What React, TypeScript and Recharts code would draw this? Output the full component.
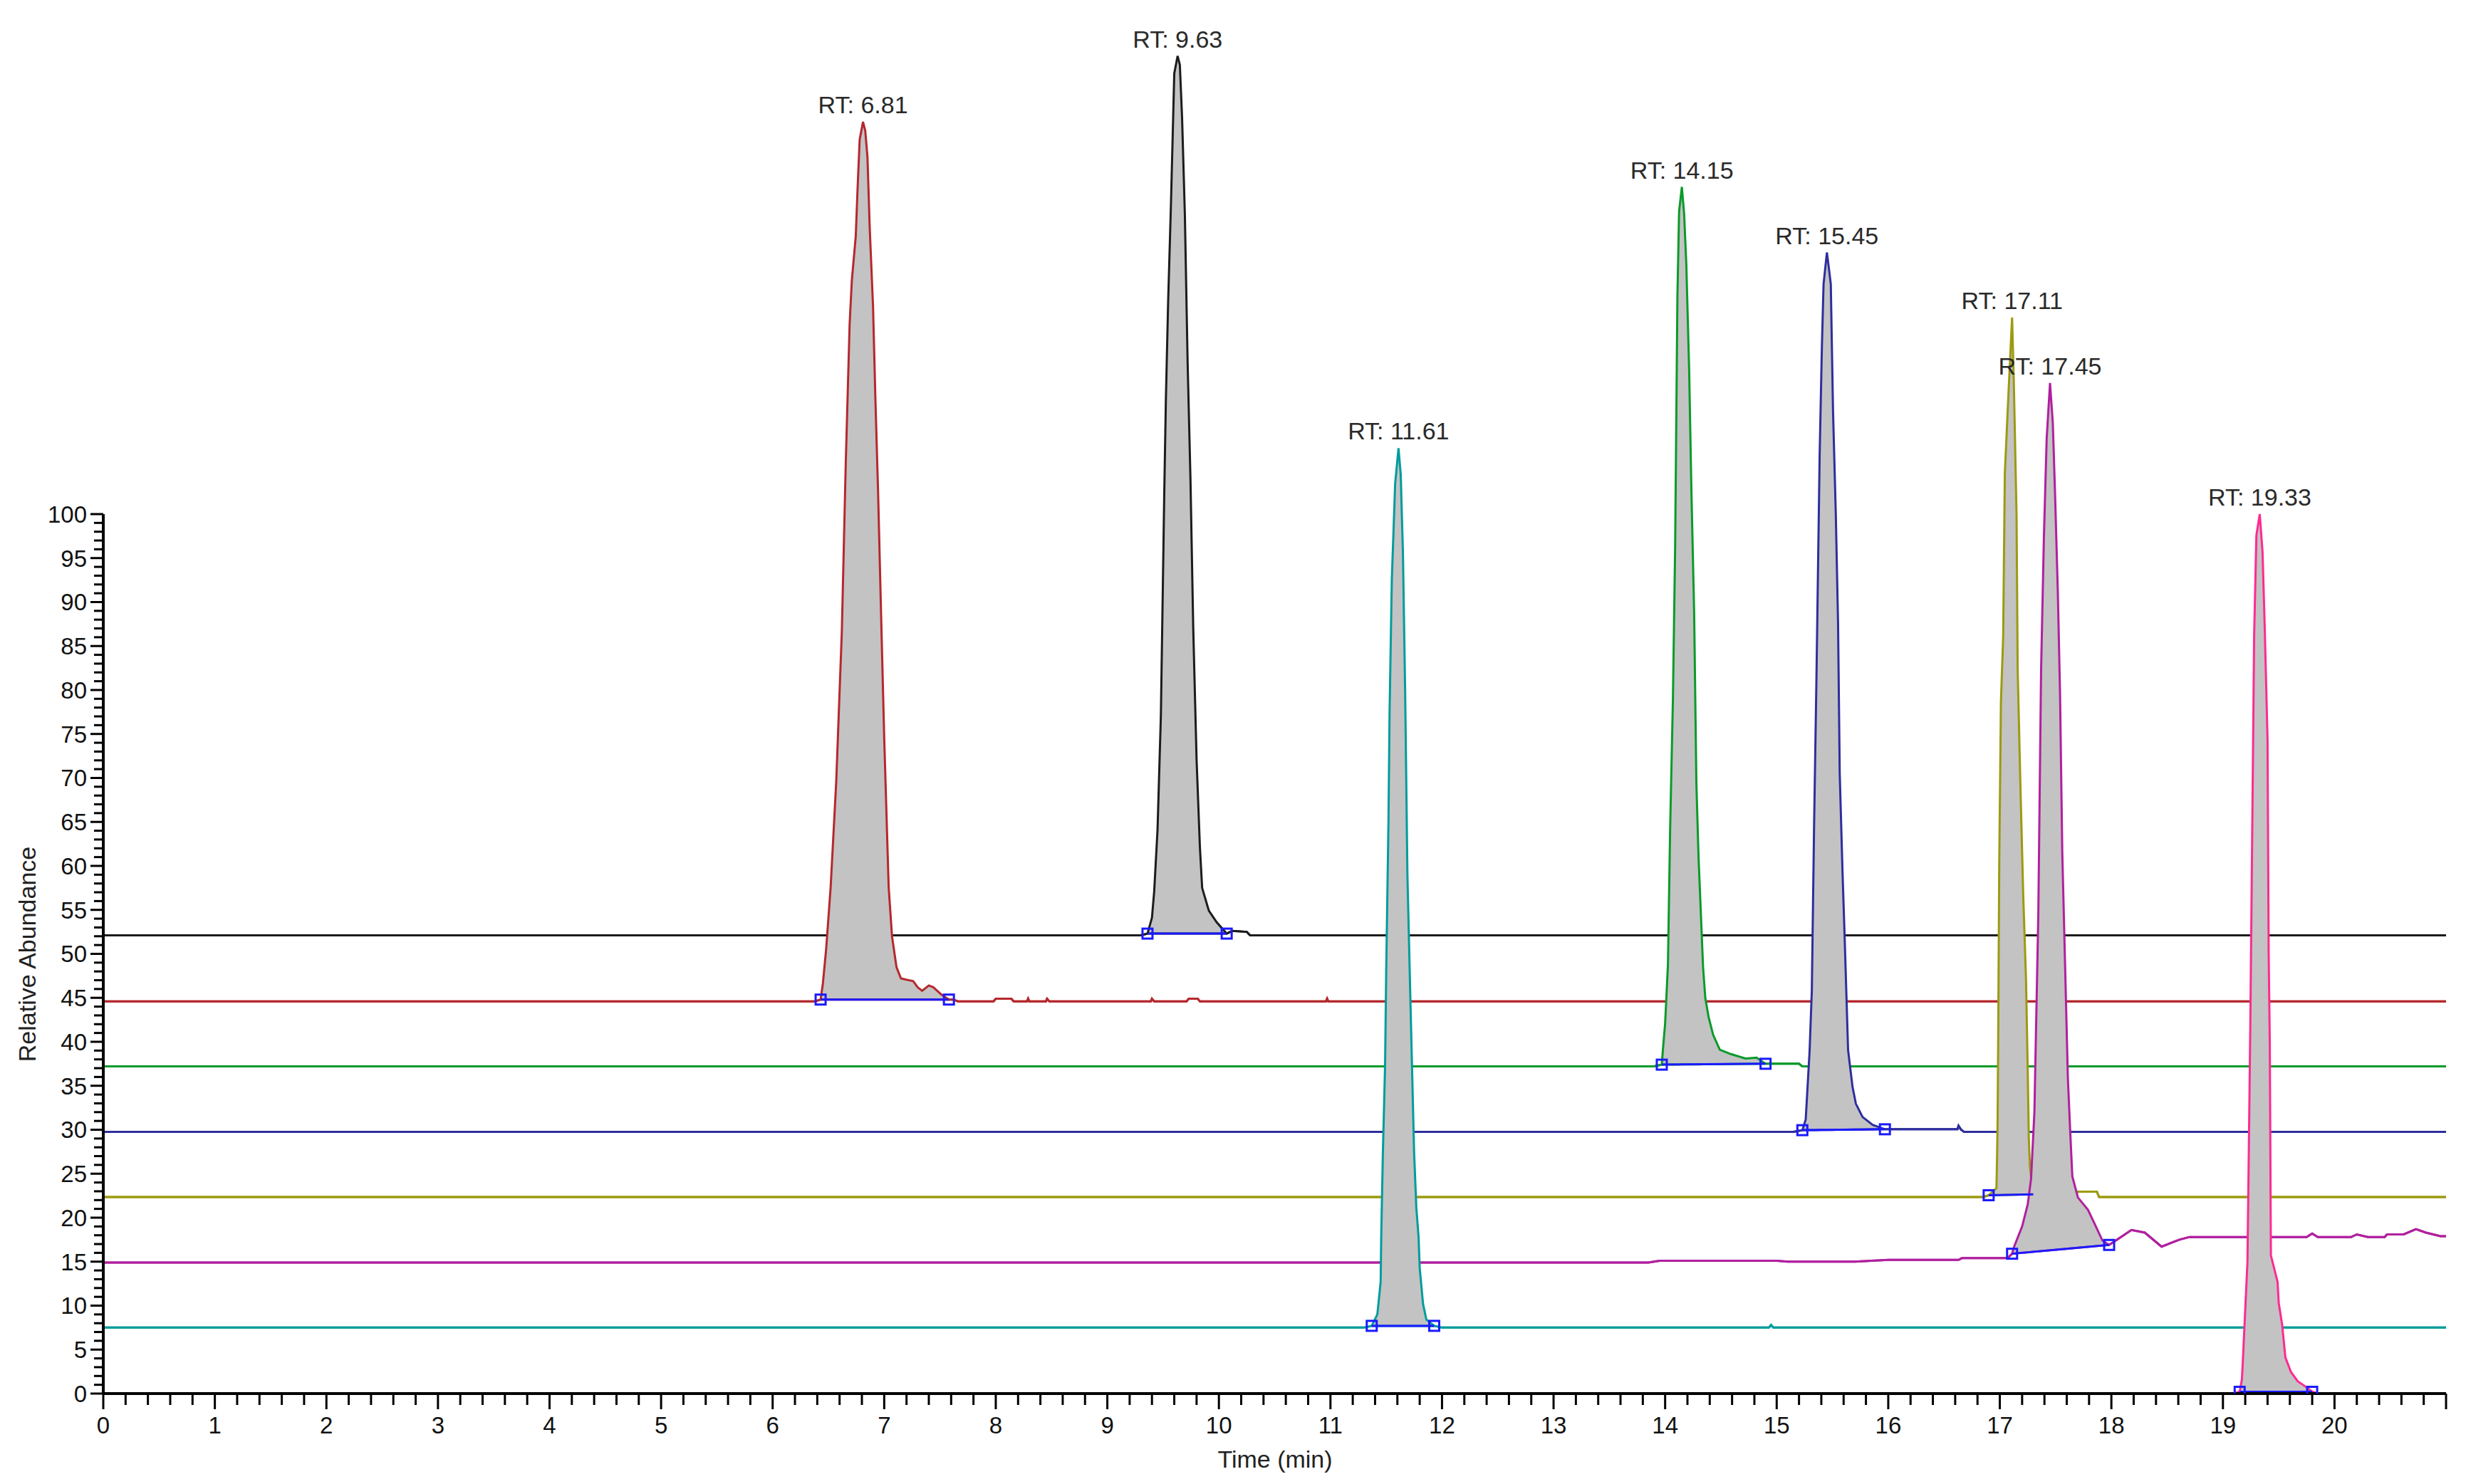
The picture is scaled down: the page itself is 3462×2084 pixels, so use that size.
import React from "react";
import { ComposedChart, Area, Line, XAxis, YAxis, ReferenceDot, ReferenceLine } from "recharts";

const FONT = '"Liberation Sans", Arial, sans-serif';

// retention times (min) and relative intensities (%) per trace
const blackT = [0, 9.3, 9.36, 9.4, 9.42, 9.45, 9.48, 9.51, 9.525, 9.545, 9.57, 9.59, 9.6, 9.63, 9.65, 9.67, 9.695, 9.72, 9.745, 9.77, 9.8, 9.83, 9.85, 9.91, 9.98, 10.07, 10.12, 10.25, 10.28, 21];
const blackI = [0, 0, 0.2, 2, 5, 12, 25, 50, 61, 72, 83, 93, 98, 100, 99, 93, 82, 65, 52, 35, 20, 10, 5.4, 2.8, 1.5, 0.2, 0.5, 0.4, 0, 0];

const redT = [0, 6.38, 6.43, 6.45, 6.48, 6.52, 6.57, 6.62, 6.655, 6.69, 6.71, 6.745, 6.76, 6.78, 6.81, 6.83, 6.85, 6.87, 6.9, 6.92, 6.945, 6.97, 7.0, 7.04, 7.07, 7.11, 7.15, 7.26, 7.3, 7.34, 7.4, 7.44, 7.51, 7.58, 7.62, 7.66, 7.98, 8.0, 8.14, 8.16, 8.28, 8.29, 8.3, 8.45, 8.46, 8.48, 9.39, 9.4, 9.42, 9.71, 9.73, 9.81, 9.83, 10.96, 10.97, 10.98, 21];
const redI = [0, 0, 0.2, 2, 6, 13, 25, 42, 61, 77, 82, 87, 92, 98, 100, 99, 96, 88, 79, 69, 58, 45, 30, 13, 7.4, 3.9, 2.6, 2.3, 1.6, 1.2, 1.8, 1.6, 0.8, 0.2, 0.2, 0, 0, 0.3, 0.3, 0, 0, 0.3, 0, 0, 0.3, 0, 0, 0.3, 0, 0, 0.3, 0.3, 0, 0, 0.3, 0, 0];

const greenT = [0, 13.9, 13.97, 13.98, 14.0, 14.025, 14.045, 14.07, 14.09, 14.11, 14.125, 14.15, 14.17, 14.19, 14.215, 14.235, 14.26, 14.28, 14.3, 14.32, 14.34, 14.36, 14.39, 14.43, 14.49, 14.59, 14.72, 14.82, 14.9, 15.2, 15.23, 21];
const greenI = [0, 0, 0.2, 1.9, 4.9, 11.5, 27.1, 41.9, 59.4, 87.5, 97.2, 100, 97, 91.2, 79.4, 65.8, 51.7, 32.3, 23.6, 17.5, 11.3, 7.8, 5.6, 3.6, 1.9, 1.4, 0.9, 1.0, 0.3, 0.3, 0, 0];

const blueT = [0, 15.15, 15.23, 15.26, 15.295, 15.315, 15.335, 15.355, 15.385, 15.405, 15.42, 15.45, 15.465, 15.485, 15.505, 15.53, 15.55, 15.565, 15.59, 15.61, 15.64, 15.68, 15.71, 15.77, 15.86, 15.97, 16.3, 16.62, 16.63, 16.65, 16.68, 21];
const blueI = [0, 0, 0.2, 1.4, 9.2, 16.1, 34.7, 50.4, 76.9, 89.2, 96.4, 100, 98.5, 96.4, 82, 70.2, 57.9, 40.8, 29.6, 21.8, 9.3, 5.1, 3.2, 1.7, 0.8, 0.3, 0.3, 0.3, 0.7, 0.3, 0, 0];

const oliveT = [0, 16.85, 16.9, 16.97, 16.975, 16.98, 16.985, 16.995, 17.01, 17.03, 17.045, 17.08, 17.11, 17.125, 17.15, 17.16, 17.185, 17.21, 17.235, 17.25, 17.26, 17.27, 17.29, 17.3, 17.68, 17.7, 17.87, 17.89, 21];
const oliveI = [0, 0, 0.2, 1.0, 4.3, 8.3, 17.1, 38.1, 56.3, 63.7, 82.3, 92, 100, 93, 77.6, 60.1, 46.6, 34.3, 24.7, 14.6, 6.7, 3.5, 1.0, 0.3, 0.3, 0.6, 0.6, 0, 0];

const magentaT = [0, 13.85, 13.95, 15.0, 15.1, 15.7, 16.0, 16.63, 16.66, 17.07, 17.11, 17.125, 17.2, 17.25, 17.28, 17.31, 17.345, 17.37, 17.395, 17.42, 17.45, 17.475, 17.495, 17.52, 17.54, 17.56, 17.585, 17.61, 17.63, 17.65, 17.7, 17.79, 17.85, 17.92, 17.98, 18.04, 18.18, 18.3, 18.45, 18.61, 18.7, 19.75, 19.8, 19.85, 20.15, 20.2, 20.3, 20.45, 20.47, 20.62, 20.73, 20.82, 20.95, 21];
const magentaI = [0, 0, 0.2, 0.2, 0.1, 0.1, 0.3, 0.3, 0.5, 0.5, 1.0, 1.7, 4.1, 6.6, 9.5, 17.1, 39.5, 67.4, 82.4, 93.7, 100, 95.5, 87.5, 76.3, 64.6, 46.6, 33.9, 21, 15.2, 9.8, 7.4, 6.0, 4.4, 2.5, 2.0, 2.5, 3.7, 3.4, 1.8, 2.6, 2.9, 2.9, 3.3, 2.9, 2.9, 3.2, 2.9, 2.9, 3.2, 3.2, 3.8, 3.4, 3.0, 3.0];

const tealT = [0, 11.3, 11.37, 11.42, 11.43, 11.45, 11.455, 11.47, 11.49, 11.5, 11.52, 11.53, 11.55, 11.58, 11.61, 11.63, 11.65, 11.67, 11.69, 11.71, 11.73, 11.75, 11.77, 11.79, 11.8, 11.83, 11.86, 11.93, 12.0, 14.93, 14.95, 14.97, 21];
const tealI = [0, 0, 0.2, 1.5, 2.7, 5.2, 10.3, 19.9, 30, 40.8, 57.5, 70, 85, 96, 100, 97, 88, 72, 51.5, 40.8, 30.3, 19.9, 13.6, 10.3, 6.8, 2.7, 0.9, 0.2, 0, 0, 0.3, 0, 0];

const pinkT = [0, 19.1, 19.15, 19.17, 19.18, 19.22, 19.245, 19.265, 19.28, 19.3, 19.33, 19.355, 19.375, 19.4, 19.41, 19.42, 19.43, 19.49, 19.5, 19.53, 19.56, 19.61, 19.67, 19.74, 19.8, 19.85, 21];
const pinkI = [0, 0, 0.2, 1.6, 4.1, 15, 41.4, 67, 86.4, 97.6, 100, 95.7, 87, 74.3, 50, 40, 15.7, 12.7, 10.3, 7.9, 4.1, 2.45, 1.4, 0.8, 0.2, 0, 0];

// drawn top trace first so lower peaks cover upper baselines
const traceNames = ["black", "red", "green", "blue", "olive", "magenta", "teal", "pink"];
const traceColors = ["#1c1c1c", "#b5282d", "#0a9a2a", "#2e2e9e", "#9c9a10", "#b0209e", "#009c9c", "#ff2a92"];
const traceOffsets = [52.1, 44.6, 37.2, 29.75, 22.35, 14.9, 7.5, 0];
const traceTimes = [blackT, redT, greenT, blueT, oliveT, magentaT, tealT, pinkT];
const traceValues = [blackI, redI, greenI, blueI, oliveI, magentaI, tealI, pinkI];
const peakRTs = [9.63, 6.81, 14.15, 15.45, 17.11, 17.45, 11.61, 19.33];
const windowStart = [9.36, 6.43, 13.97, 15.23, 16.9, 17.11, 11.37, 19.15];
const windowEnd = [10.07, 7.58, 14.9, 15.97, 17.3, 17.98, 11.93, 19.8];
const endMarkShown = [true, true, true, true, false, true, true, true];

const xTicks = Array.from({ length: 106 }, (_, i) => i / 5);
const yTicks = Array.from({ length: 101 }, (_, i) => i);

const at = (k: number, t: number) => traceValues[k][traceTimes[k].indexOf(t)];

const bands = traceNames.map((_, k) => {
  const a = windowStart[k];
  const b = windowEnd[k];
  const va = at(k, a);
  const vb = at(k, b);
  const off = traceOffsets[k];
  return traceTimes[k].map((t, i) => {
    const hi = off + traceValues[k][i];
    const inside = t >= a && t <= b;
    const lo = inside ? off + va + ((vb - va) * (t - a)) / (b - a) : hi;
    return { t, band: [lo, hi] };
  });
});

const integrations = traceNames.map((_, k) => [
  { t: windowStart[k], y: traceOffsets[k] + at(k, windowStart[k]), mark: true },
  { t: windowEnd[k], y: traceOffsets[k] + at(k, windowEnd[k]), mark: endMarkShown[k] },
]);

const XTick = (props: any) => {
  const { x, y, payload } = props;
  const v = payload.value;
  const major = Math.abs(v - Math.round(v)) < 1e-6;
  return (
    <g>
      <line x1={x} x2={x} y1={y} y2={y + (major ? 22 : 16)} stroke="#000" strokeWidth={3} />
      {major && v <= 20 && (
        <text x={x} y={y + 56} textAnchor="middle" fontSize={33} fontFamily={FONT} fill="#111">
          {Math.round(v)}
        </text>
      )}
    </g>
  );
};

const YTick = (props: any) => {
  const { x, y, payload } = props;
  const v = payload.value;
  const major = v % 5 === 0;
  return (
    <g>
      <line x1={x - (major ? 18 : 13)} x2={x} y1={y} y2={y} stroke="#000" strokeWidth={3} />
      {major && (
        <text x={x - 23} y={y + 12} textAnchor="end" fontSize={33} fontFamily={FONT} fill="#111">
          {v}
        </text>
      )}
    </g>
  );
};

const SquareDot = (props: any) => {
  const { cx, cy, payload } = props;
  if (!payload || !payload.mark) return <g />;
  return <rect x={cx - 7} y={cy - 7} width={14} height={14} fill="none" stroke="#1a1aff" strokeWidth={3} />;
};

export default function App() {
  return (
    <div style={{ position: "absolute", left: 0, top: 0, width: 3462, height: 2084, background: "#fff", fontFamily: FONT }}>
      <ComposedChart width={3462} height={2084} margin={{ top: 18, right: 28, bottom: 27, left: 45 }}>
        <XAxis
          type="number"
          dataKey="t"
          domain={[0, 21]}
          ticks={xTicks}
          interval={0}
          allowDataOverflow
          height={100}
          tickSize={0}
          tickMargin={0}
          tickLine={false}
          axisLine={{ stroke: "#000", strokeWidth: 4 }}
          tick={<XTick />}
        />
        <YAxis
          type="number"
          domain={[0, 157]}
          ticks={yTicks}
          interval={0}
          allowDataOverflow
          width={100}
          tickSize={0}
          tickMargin={0}
          tickLine={false}
          axisLine={false}
          tick={<YTick />}
        />
        {traceNames.map((name, k) => (
          <Area
            key={name}
            data={bands[k]}
            dataKey="band"
            type="linear"
            stroke={traceColors[k]}
            strokeWidth={3}
            fill="#c3c3c3"
            fillOpacity={1}
            dot={false}
            activeDot={false}
            isAnimationActive={false}
          />
        ))}
        <ReferenceLine
          segment={[
            { x: 0, y: 0 },
            { x: 0, y: 100 },
          ]}
          stroke="#000"
          strokeWidth={4}
          ifOverflow="visible"
        />
        {traceNames.map((name, k) => (
          <Line
            key={"int-" + name}
            data={integrations[k]}
            dataKey="y"
            type="linear"
            stroke="#1a1aff"
            strokeWidth={3}
            dot={<SquareDot />}
            activeDot={false}
            isAnimationActive={false}
          />
        ))}
        {traceNames.map((name, k) => (
          <ReferenceDot
            key={"rt-" + name}
            x={peakRTs[k]}
            y={traceOffsets[k] + 100}
            r={0}
            fill="none"
            stroke="none"
            label={{
              value: `RT: ${peakRTs[k].toFixed(2)}`,
              position: "top",
              offset: 12,
              fill: "#2a2a2a",
              fontSize: 34,
              fontFamily: FONT,
            }}
          />
        ))}
      </ComposedChart>
      <div
        style={{
          position: "absolute",
          left: 38,
          top: 1340,
          transform: "translate(-50%, -50%) rotate(-90deg)",
          whiteSpace: "nowrap",
          fontSize: 34,
          color: "#222",
        }}
      >
        Relative Abundance
      </div>
      <div
        style={{
          position: "absolute",
          left: 1790,
          top: 2049,
          transform: "translate(-50%, -50%)",
          whiteSpace: "nowrap",
          fontSize: 34,
          color: "#222",
        }}
      >
        Time (min)
      </div>
    </div>
  );
}
